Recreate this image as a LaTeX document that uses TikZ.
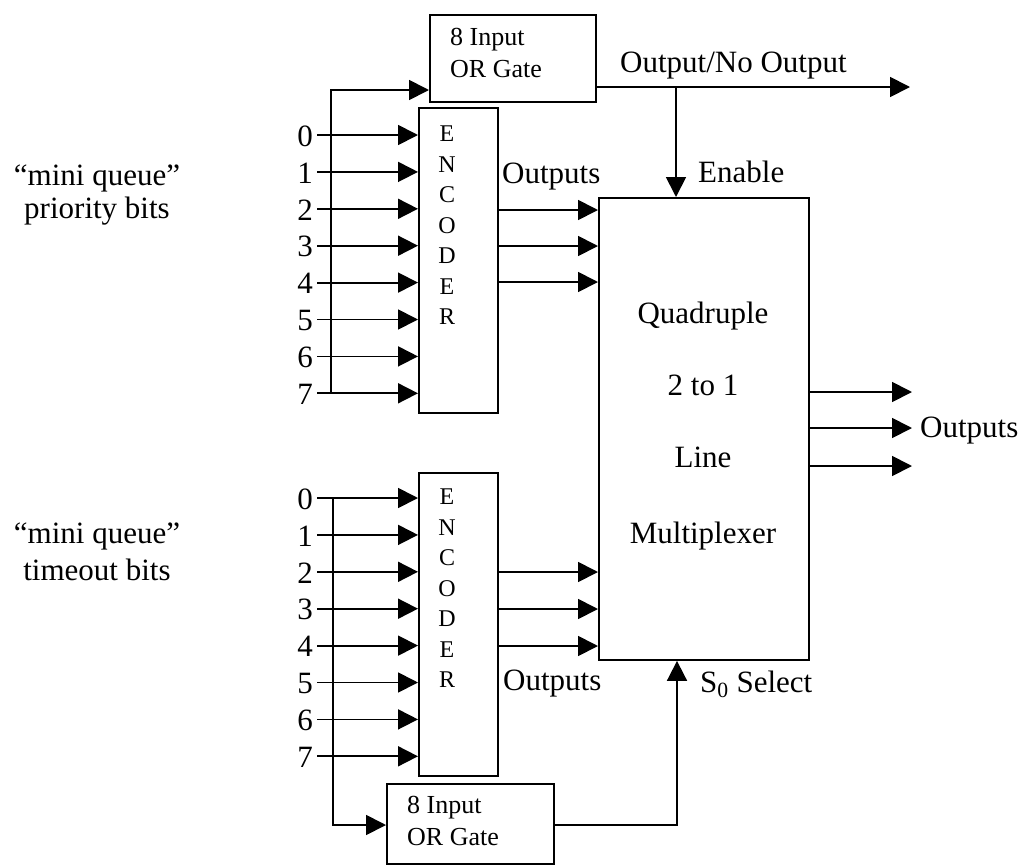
\documentclass[tikz,border=0pt]{standalone}
\usepackage{fontspec}
\setmainfont{Liberation Serif}
\usetikzlibrary{arrows.meta}
\begin{document}
\begin{tikzpicture}[x=1pt,y=-1pt,
  box/.style={draw, line width=1.9pt, inner sep=0pt, anchor=north west},
  wire/.style={line width=1.8pt},
  arr/.style={wire, -{Triangle[length=20pt,width=20pt]}},
  lbl/.style={font=\fontsize{31}{31}\selectfont, inner sep=0pt},
  small/.style={font=\fontsize{26}{26}\selectfont, inner sep=0pt},
  enc/.style={font=\fontsize{24}{24}\selectfont, inner sep=0pt}]
\useasboundingbox (0,0) rectangle (1020,865);

% boxes
\node[box, minimum width=166pt, minimum height=87pt] (or1) at (429,14) {};
\node[box, minimum width=79pt, minimum height=305pt] (enc1) at (418,107) {};
\node[box, minimum width=210pt, minimum height=462pt] (mux) at (598,197) {};
\node[box, minimum width=79pt, minimum height=303pt] (enc2) at (418,472) {};
\node[box, minimum width=167pt, minimum height=80pt] (or2) at (386,783) {};

% box texts
\node[small, anchor=base west] (or1a) at (450,45) {8 Input};
\node[small, anchor=base west] (or1b) at (450,77) {OR Gate};
\node[small, anchor=base west] (or2a) at (407,813) {8 Input};
\node[small, anchor=base west] (or2b) at (407,845) {OR Gate};
\foreach \L [count=\k from 0] in {E,N,C,O,D,E,R}{
  \node[enc] (e1\k) at (447,134+30.5*\k) {\L};
  \node[enc] (e2\k) at (447,497+30.5*\k) {\L};
}
\node[lbl, anchor=base] (mx1) at (703,323) {Quadruple};
\node[lbl, anchor=base] (mx2) at (703,395) {2 to 1};
\node[lbl, anchor=base] (mx3) at (703,467) {Line};
\node[lbl, anchor=base] (mx4) at (703,543) {Multiplexer};

% left labels
\node[lbl, anchor=base] (pl1) at (97,185) {“mini queue”};
\node[lbl, anchor=base] (pl2) at (97,218) {priority bits};
\node[lbl, anchor=base] (tl1) at (97,543) {“mini queue”};
\node[lbl, anchor=base] (tl2) at (97,580) {timeout bits};

% inputs
\foreach \i in {0,...,7}{
  \pgfmathsetmacro{\ya}{135+36.9*\i}
  \pgfmathsetmacro{\yb}{498+36.9*\i}
  \node[lbl, anchor=east] (da\i) at (313,\ya+1) {\i};
  \node[lbl, anchor=east] (db\i) at (313,\yb+1) {\i};
  \coordinate (a\i) at (317,\ya);
  \coordinate (b\i) at (317,\yb);
  \draw[arr] (a\i) -- (enc1.west |- a\i);
  \draw[arr] (b\i) -- (enc2.west |- b\i);
}

% top bus to OR gate
\coordinate (ta) at (331,90);
\coordinate (tb) at (331,393);
\draw[arr] (tb) -- (ta) -- (or1.west |- ta);

% bottom bus to OR gate
\coordinate (ba) at (333,498);
\coordinate (bb) at (333,825);
\draw[arr] (ba) -- (bb) -- (or2.west |- bb);

% encoder outputs
\foreach \y [count=\k] in {210,246,282}{
  \coordinate (p\k) at (0,\y);
  \draw[arr] (enc1.east |- p\k) -- (mux.west |- p\k);
}
\foreach \y [count=\k] in {572,609,646}{
  \coordinate (q\k) at (0,\y);
  \draw[arr] (enc2.east |- q\k) -- (mux.west |- q\k);
}

% mux outputs
\foreach \y [count=\k] in {392,428,466}{
  \coordinate (mo\k) at (912,\y);
  \draw[arr] (mux.east |- mo\k) -- (mo\k);
}

% output / no output and enable
\coordinate (ono) at (910,87);
\coordinate (en) at (676,87);
\draw[arr] (or1.east |- ono) -- (ono);
\draw[arr] (en) -- (mux.north -| en);

% select
\coordinate (sel) at (677,825);
\draw[arr] (or2.east |- sel) -- (sel) -- (mux.south -| sel);

% labels
\node[lbl, anchor=base west] (ol) at (620,72) {Output/No Output};
\node[lbl, anchor=base west] (enl) at (698,182) {Enable};
\node[lbl, anchor=base west] (out1) at (502,183) {Outputs};
\node[lbl, anchor=base west] (out2) at (503,690) {Outputs};
\node[lbl, anchor=base west] (sl) at (700,692) {S\textsubscript{0} Select};
\node[lbl, anchor=base west] (out3) at (920,437) {Outputs};
\end{tikzpicture}
\end{document}
